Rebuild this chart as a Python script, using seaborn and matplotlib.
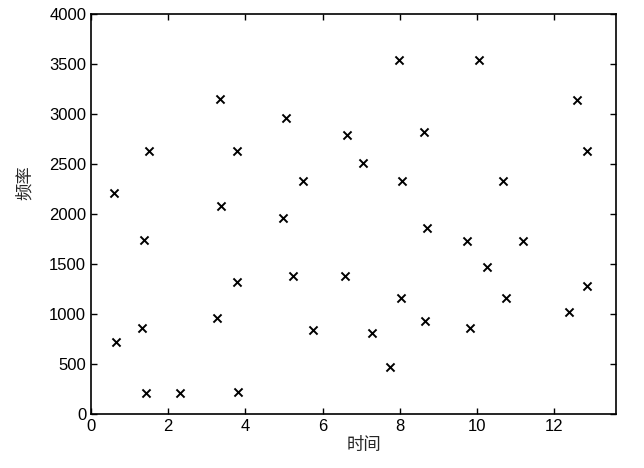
import matplotlib
matplotlib.use("Agg")
import matplotlib.pyplot as plt
import seaborn as sns
import pandas as pd

time_vals = [0.60, 0.64, 1.37, 1.33, 1.42, 1.51, 2.31, 3.26, 3.35, 3.38, 3.79, 3.77, 3.80,
             5.04, 4.98, 5.24, 5.48, 5.76, 6.62, 6.58, 7.05, 7.28, 7.75, 7.97, 8.05, 8.02,
             8.63, 8.70, 8.64, 9.73, 9.82, 10.06, 10.25, 10.67, 10.75, 11.18, 12.38, 12.58,
             12.86, 12.86]
freq_vals = [2210, 723, 1740, 863, 207, 2630, 207, 963, 3150, 2083, 2630, 1317, 217,
             2957, 1963, 1383, 2330, 840, 2790, 1383, 2507, 807, 467, 3540, 2330, 1157,
             2823, 1857, 933, 1733, 863, 3540, 1467, 2330, 1163, 1733, 1017, 3140,
             2630, 1280]
x_ticks = [0, 2, 4, 6, 8, 10, 12]
y_ticks = [0, 500, 1000, 1500, 2000, 2500, 3000, 3500, 4000]

df = pd.DataFrame({"时间": time_vals, "频率": freq_vals})

sns.set_theme(style="ticks")
plt.rcParams['font.family'] = ['Liberation Sans', 'Noto Sans CJK SC', 'DejaVu Sans']

fig = plt.figure(figsize=(6.44, 4.68), dpi=100)
ax = fig.add_axes([0.1413, 0.1154, 0.9565 - 0.1413, 0.970 - 0.1154])
sns.scatterplot(data=df, x="时间", y="频率", marker="x", color="black", s=34,
                linewidth=1.4, ax=ax, legend=False)

ax.set_xlim(0, 13.6)
ax.set_ylim(0, 4000)
ax.set_xticks(x_ticks)
ax.set_yticks(y_ticks)
ax.tick_params(direction="in", top=True, right=True, length=4, width=1,
               labelsize=12, colors="black")
for sp in ax.spines.values():
    sp.set_visible(True)
    sp.set_linewidth(1.2)
    sp.set_color("black")

ax.set_xlabel("时间", fontsize=12.5, family=['Noto Sans CJK SC', 'DejaVu Sans'])
ax.set_ylabel("频率", fontsize=12.5, family=['Noto Sans CJK SC', 'DejaVu Sans'])
ax.xaxis.set_label_coords(0.52, -0.055)
ax.yaxis.set_label_coords(-0.108, 0.578)

fig.savefig("out.png", dpi=100)
